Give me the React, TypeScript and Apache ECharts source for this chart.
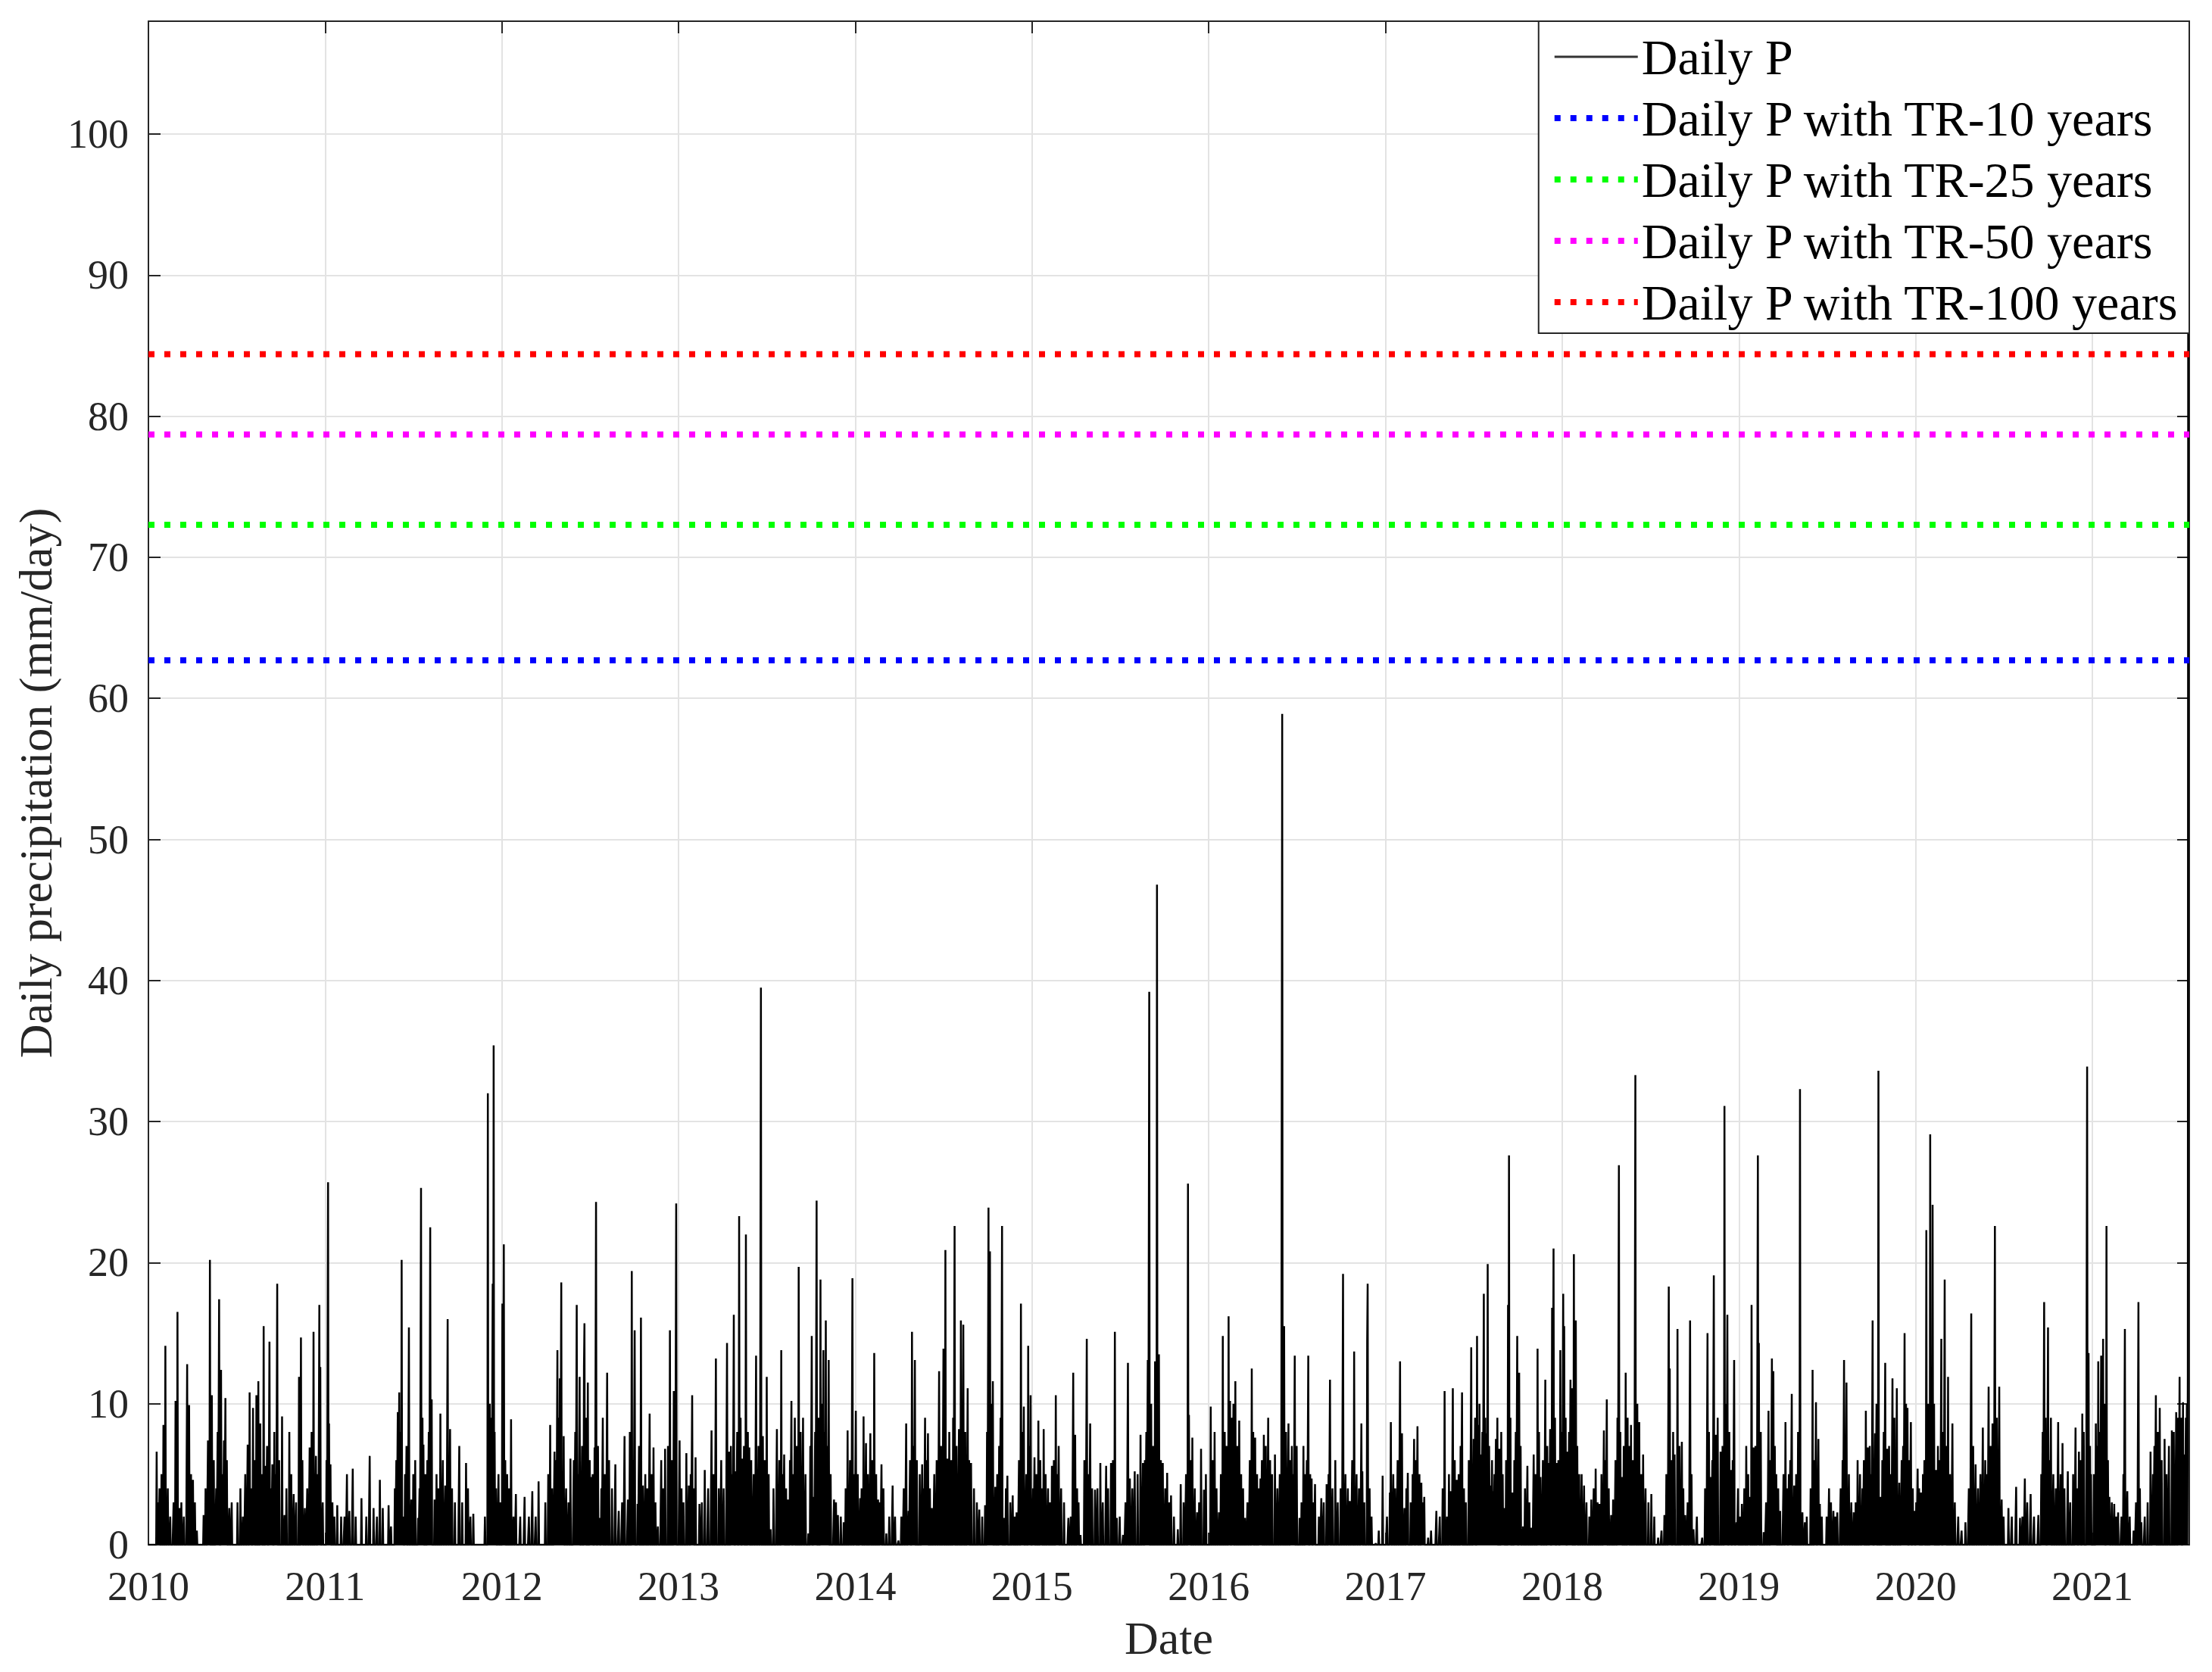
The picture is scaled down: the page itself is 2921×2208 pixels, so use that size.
import React, { useEffect, useRef } from "react";
import * as echarts from "echarts";

// Wet days: [day of year (0 = 1 Jan), daily precipitation in mm/day].
// Peaks (the visible spikes) of each year:
const wet2010 = [[17,6.6],[23,4],[31,8.5],[35,14.1],[56,10.2],[60,16.5],[64,2.6],[80,12.8],[84,9.9],[92,4.6],[100,1],[114,2.1],[123,7.4],[127,20.2],[131,10.6],[146,17.4],[150,12.4],[156,7.4],[159,10.4],[167,2.6],[184,3],[190,4],[195,2],[205,7.1],[209,10.8],[216,9.7],[223,10.6],[227,11.6],[231,8.6],[238,15.5],[242,5.6],[250,14.4],[256,5.7],[266,18.5],[276,9.1],[281,2.1],[291,8],[300,3.6],[311,11.9],[315,14.7],[323,2.6],[333,6.9],[341,15.1],[346,6.3],[353,17],[355,12.6]];
const wet2011 = [[6,25.7],[8,8.6],[11,5.7],[25,2.8],[33,2],[45,5],[50,2.4],[57,5.4],[75,3.3],[92,6.3],[100,2.6],[113,4.6],[119,2.6],[131,2.8],[136,1.3],[150,9.4],[153,10.8],[158,20.2],[161,2],[173,15.4],[178,3.2],[192,1.9],[198,25.3],[203,7.1],[217,22.5],[220,10.3],[226,3.2],[238,9.3],[248,4.2],[253,16],[258,8.2],[277,7],[291,5.8],[295,4],[306,2.2],[336,32],[340,10],[346,18.5],[348,35.4],[353,4]];
const wet2012 = [[1,17.1],[4,21.3],[11,5],[19,8.9],[29,3.6],[47,3.4],[63,3.8],[76,4.5],[100,8.5],[109,6.6],[115,13.8],[120,11.8],[123,18.6],[128,7.7],[142,6.1],[155,17],[161,11.9],[170,12.6],[171,15.7],[178,11.5],[185,4.8],[192,6.9],[195,24.3],[202,1.9],[209,9],[218,12.2],[235,5.7],[242,2.4],[254,7.7],[261,3.2],[269,19.4],[275,15.2],[281,2.9],[288,16.1],[292,4.2],[306,9.3],[314,6.9],[323,1.3],[330,6],[338,6.8],[348,15.2],[356,10.9],[361,24.2]];
const wet2013 = [[2,7.4],[16,6.5],[21,4.2],[28,10.6],[35,6.2],[43,2.9],[54,5.3],[68,8.1],[77,13.2],[83,4],[100,14.3],[104,6.6],[114,16.3],[118,5.2],[125,23.3],[132,6.1],[139,22],[146,6.9],[160,13.4],[170,39.5],[174,7.7],[182,11.9],[190,1.1],[203,8.2],[212,13.8],[218,6.4],[226,3.2],[233,10.2],[240,9],[248,19.7],[257,9],[268,0.8],[275,14.8],[279,3.4],[285,24.4],[293,18.8],[299,13.8],[304,15.9],[310,13.1],[321,3.2],[329,2.1],[341,1.6],[349,8.1],[359,18.9]];
const wet2014 = [[1,9.5],[10,3.3],[17,9.1],[22,7.2],[31,7.9],[39,13.6],[47,3.2],[54,5.7],[64,0.8],[77,4.2],[89,0.3],[105,8.6],[110,2.4],[117,15.1],[123,13.1],[138,5.7],[144,9],[150,7.9],[158,2.6],[173,12.3],[182,13.9],[186,20.9],[190,6.1],[205,22.6],[214,8.2],[218,15.9],[223,15.6],[232,11.1],[239,5.8],[256,2.5],[268,2.8],[275,23.9],[278,20.8],[284,11.6],[289,4.1],[303,22.6],[307,1.9],[314,4.9],[325,3.5],[333,2.3],[342,17.1],[348,9.8],[357,14.1],[362,10.6]];
const wet2015 = [[5,6.2],[13,8.8],[24,8.2],[41,5.6],[49,10.6],[55,7],[75,1.9],[85,12.2],[89,7.8],[100,0.7],[113,14.6],[120,8.6],[130,3.9],[141,5.8],[153,5.6],[163,5.8],[171,15.1],[175,1.9],[188,0.7],[198,12.9],[202,4.7],[212,5.2],[224,7.8],[229,5.8],[239,13.1],[242,39.2],[258,46.8],[262,13.5],[270,5.8],[279,5.1],[287,3.5],[301,1.1],[307,4.3],[322,25.6],[324,9.2],[331,7.6],[341,2.3],[349,6.8],[355,3.9]];
const wet2016 = [[4,9.8],[12,8],[21,2.3],[29,14.8],[41,16.2],[44,10.2],[55,11.6],[63,8.8],[75,1.9],[89,12.5],[96,7.6],[107,4.7],[114,7.8],[123,9],[137,6.4],[152,58.9],[156,15.5],[165,8.6],[172,7],[178,13.4],[188,1.9],[196,7],[206,13.4],[213,4.7],[220,4.3],[233,3.3],[244,4.3],[251,11.7],[262,6],[278,19.2],[292,3.1],[301,13.7],[316,8.6],[318,5.2],[328,14.5],[329,18.5],[346,0.1],[360,4.9]];
const wet2017 = [[9,3.7],[11,8.7],[30,13],[34,7.9],[39,2.6],[46,5.1],[52,3],[59,7.5],[66,8.4],[74,4.4],[80,3.4],[88,0.5],[105,2.4],[122,10.9],[127,2],[134,3.8],[139,11.1],[147,4.6],[155,7],[158,10.8],[177,14],[182,7.5],[189,14.8],[192,8.5],[197,6.4],[203,17.8],[209,7.9],[211,19.9],[217,4.2],[222,3.8],[228,7.5],[235,6.8],[245,2.6],[253,17],[255,27.6],[262,3.7],[272,14.8],[276,12.2],[284,1.3],[293,5.6],[301,1.2],[306,6.4],[314,13.9],[320,4.8],[330,11.7],[337,5.8],[340,8.2],[344,16.8],[347,21],[354,5.8],[361,13.8]];
const wet2018 = [[2,17.8],[4,15.5],[11,6.6],[17,11.7],[20,11.1],[24,20.6],[28,15.9],[35,5],[45,4.2],[60,3.2],[69,5.4],[77,2.9],[86,8.1],[92,10.3],[101,2.1],[105,3.2],[117,26.9],[123,4.8],[131,12.2],[142,8.5],[151,33.3],[159,8.7],[167,6.4],[184,3.6],[198,0.5],[211,2.1],[220,18.3],[222,12.5],[232,6.4],[238,15.3],[247,7.3],[254,2.1],[264,15.9],[271,1.1],[289,0.5],[300,15],[307,4.8],[313,19.1],[317,7.8],[327,6.6],[335,31.1],[341,16.3],[348,5.3],[355,13.1],[360,1.6]];
const wet2019 = [[6,2.9],[15,7],[22,3.4],[26,17],[30,6.9],[39,27.6],[41,14.3],[51,0.9],[61,9.5],[68,13.2],[71,12.3],[77,5],[85,2.4],[96,8.7],[103,5],[109,10.7],[114,4.2],[126,32.3],[131,2.3],[136,1.6],[152,12.4],[159,10.1],[164,7.5],[167,2.9],[186,4],[195,2.4],[203,2.3],[217,13.1],[222,11.5],[237,2.3],[245,6],[262,9.5],[266,6.9],[276,15.9],[281,7.9],[288,33.6],[292,3.4],[302,12.9],[306,6.8],[317,11.8],[326,11.1],[331,4.4],[342,15],[348,9.7],[355,8.7],[362,2.4]];
const wet2020 = [[4,5.4],[11,3.7],[22,22.3],[30,29.1],[35,24.1],[42,5.3],[53,14.6],[60,18.8],[67,11.9],[76,8.6],[103,1.6],[115,16.4],[124,5.7],[139,8.3],[151,11.2],[159,8.6],[164,22.6],[173,11.2],[178,3.2],[192,2.6],[208,4.1],[216,1.9],[226,4.7],[238,3.6],[254,2.1],[266,17.2],[274,15.4],[280,9],[295,8.7],[304,7.2],[315,5.2],[331,8.3],[338,6.6],[345,9.3],[355,33.9],[358,13.6],[361,7]];
const wet2021 = [[7,8.6],[12,13],[18,13.4],[22,14.6],[29,22.6],[35,3.4],[45,2.9],[53,2.3],[67,15.3],[72,3.8],[95,17.2],[101,1.6],[120,6.6],[131,10.6],[139,9.7],[149,7.5],[164,8.1],[173,9.4],[180,11.9],[187,10.1],[190,6.4],[197,12],[198,108],[199,108]];

// Lighter wet days that form the dark mass under the spikes:
const light2010 = [[20,3],[27,5],[40,4],[45,2],[52,3],[68,3],[73,2],[88,5],[96,3],[118,4],[125,5],[135,6],[140,4],[143,8],[153,5],[162,6],[172,3],[200,5],[212,4],[219,6],[234,5],[245,7],[253,4],[260,8],[263,5],[270,6],[285,4],[295,5],[305,3],[318,6],[328,4],[337,8],[350,5],[360,3]];
const light2011 = [[3,6],[15,3],[19,2],[40,2],[63,2],[85,2],[107,2],[144,4],[147,6],[156,8],[165,5],[168,7],[182,5],[186,6],[195,4],[201,9],[207,5],[211,6],[214,8],[230,5],[234,4],[243,6],[262,4],[268,3],[283,3],[300,2],[330,2],[338,6],[343,9],[350,8],[358,5],[362,3]];
const light2012 = [[7,6],[15,4],[24,2],[38,2],[56,2],[70,2],[90,3],[96,5],[104,4],[112,6],[118,9],[126,5],[133,4],[138,3],[149,6],[152,8],[158,5],[166,7],[174,9],[182,6],[188,5],[199,7],[206,4],[213,5],[222,6],[228,4],[249,3],[265,8],[272,6],[284,7],[297,5],[301,4],[310,5],[318,3],[334,4],[344,7],[352,6],[358,8]];
const light2013 = [[6,4],[10,3],[25,5],[31,4],[48,3],[61,4],[72,5],[88,6],[93,4],[108,7],[111,5],[121,8],[128,9],[135,7],[143,8],[150,6],[155,5],[165,7],[178,6],[186,5],[196,4],[208,6],[215,5],[222,4],[230,6],[237,5],[244,7],[252,8],[262,5],[272,7],[282,8],[289,9],[296,10],[302,8],[307,7],[314,5],[325,3],[335,2],[345,4],[354,6],[363,5]];
const light2014 = [[5,5],[13,4],[26,5],[35,6],[43,5],[51,3],[58,4],[70,2],[82,2],[95,2],[100,4],[113,6],[120,7],[127,6],[133,5],[141,4],[147,6],[154,4],[163,5],[168,6],[177,7],[194,8],[198,6],[202,9],[209,7],[227,8],[235,6],[245,4],[251,3],[262,2],[272,8],[281,10],[293,5],[297,7],[300,9],[311,4],[320,3],[329,2],[338,6],[345,8],[353,5],[360,7]];
const light2015 = [[2,4],[9,5],[17,6],[20,4],[28,5],[33,4],[37,3],[45,6],[52,5],[60,4],[66,3],[80,2],[93,4],[96,3],[108,6],[117,5],[124,4],[135,4],[146,3],[157,4],[167,6],[181,2],[193,3],[207,4],[218,5],[233,6],[236,8],[246,10],[250,7],[254,13],[266,6],[275,4],[283,3],[293,2],[313,3],[318,5],[327,6],[336,4],[345,3],[359,5]];
const light2016 = [[8,6],[16,4],[25,5],[33,8],[37,7],[48,9],[51,10],[59,7],[67,5],[71,4],[80,3],[85,6],[92,8],[100,5],[104,4],[110,6],[118,7],[127,6],[131,5],[142,4],[147,5],[160,8],[169,6],[175,5],[182,7],[192,3],[200,5],[203,6],[210,5],[217,3],[228,2],[238,3],[248,5],[256,4],[267,3],[273,4],[283,5],[288,4],[297,6],[306,5],[311,4],[322,3],[333,4],[337,2],[352,1]];
const light2017 = [[3,2],[16,5],[20,4],[25,6],[43,4],[56,5],[63,6],[70,5],[77,3],[94,1],[112,2],[118,4],[131,5],[143,6],[151,5],[162,4],[166,3],[172,6],[185,9],[194,10],[200,8],[206,9],[214,7],[220,6],[225,5],[231,9],[239,8],[242,5],[249,6],[258,9],[266,6],[269,8],[279,7],[288,4],[297,3],[310,5],[317,8],[325,6],[334,7],[350,9],[357,6],[364,8]];
const light2018 = [[7,9],[14,8],[31,7],[40,5],[50,3],[56,2],[65,4],[73,3],[81,5],[89,6],[96,4],[110,6],[114,9],[120,8],[127,7],[135,9],[138,7],[146,6],[155,10],[163,5],[172,4],[178,3],[190,2],[205,1],[215,5],[225,6],[229,8],[242,7],[250,4],[259,3],[267,5],[278,2],[295,4],[303,8],[310,6],[321,9],[331,7],[338,10],[345,8],[352,6],[363,4]];
const light2019 = [[2,2],[11,4],[19,5],[34,7],[45,8],[56,3],[65,6],[74,7],[81,4],[92,5],[99,4],[106,6],[118,5],[122,8],[140,2],[148,4],[156,6],[171,2],[181,2],[190,3],[199,2],[210,4],[214,6],[227,5],[232,3],[241,3],[250,5],[255,4],[258,6],[270,7],[273,5],[284,10],[296,6],[299,8],[310,7],[314,5],[321,9],[336,6],[339,7],[345,10],[352,6],[359,4]];
const light2020 = [[1,3],[7,4],[15,5],[18,6],[26,10],[33,12],[38,10],[46,7],[50,6],[57,8],[63,7],[71,5],[81,3],[88,2],[95,1],[110,4],[119,7],[129,4],[134,5],[144,6],[148,5],[155,7],[168,9],[182,2],[199,2],[221,2],[231,3],[245,2],[260,5],[263,8],[269,9],[277,6],[285,5],[290,4],[300,5],[308,4],[320,3],[326,5],[334,4],[341,6],[348,8],[363,5]];
const light2021 = [[3,5],[10,7],[15,8],[20,9],[25,10],[32,6],[40,3],[49,2],[60,2],[64,5],[77,2],[85,1],[90,3],[98,4],[108,2],[114,3],[125,5],[128,7],[135,8],[143,6],[153,5],[158,7],[168,8],[177,9],[183,9],[193,9],[195,10]];

const YEARS: [number, number[][], number[][]][] = [
  [2010, wet2010, light2010], [2011, wet2011, light2011], [2012, wet2012, light2012],
  [2013, wet2013, light2013], [2014, wet2014, light2014], [2015, wet2015, light2015],
  [2016, wet2016, light2016], [2017, wet2017, light2017], [2018, wet2018, light2018],
  [2019, wet2019, light2019], [2020, wet2020, light2020], [2021, wet2021, light2021],
];
const DAYS_RECORDED_2021 = 200;

// Return-period daily precipitation levels (mm/day)
const TR_NAMES = [
  "Daily P with TR-10 years",
  "Daily P with TR-25 years",
  "Daily P with TR-50 years",
  "Daily P with TR-100 years",
];
const TR_VALUES = [62.7, 72.3, 78.7, 84.4];
const TR_COLORS = ["#0000ff", "#00ff00", "#ff00ff", "#ff0000"];

const X_MIN = 2010;
const X_MAX = 2021 + DAYS_RECORDED_2021 / 365;
const Y_MIN = 0;
const Y_MAX = 108;

const FONT = "Liberation Serif";

function buildDaily(): number[][] {
  const out: number[][] = [];
  for (const [year, peaks, light] of YEARS) {
    const len = year % 4 === 0 ? 366 : 365;
    const n = year === 2021 ? DAYS_RECORDED_2021 : len;
    const m = new Map<number, number>();
    [...light, ...peaks].forEach(([d, v]) => m.set(d, Math.max(v, m.get(d) ?? 0)));
    for (let d = 0; d < n; d++) out.push([year + d / len, m.get(d) ?? 0]);
  }
  return out;
}

export default function App() {
  const ref = useRef<HTMLDivElement>(null);
  useEffect(() => {
    if (!ref.current) return;
    const chart = echarts.init(ref.current, undefined, { renderer: "svg" });
    const daily = buildDaily();
    const axisCommon = {
      axisLine: { show: true, onZero: false, lineStyle: { color: "#262626", width: 2 } },
      axisTick: { show: true, inside: true, length: 16, lineStyle: { color: "#262626", width: 2 } },
    };
    const hiddenSymbol = { color: "rgba(0,0,0,0)", borderWidth: 0, opacity: 0 };
    const option: any = {
      animation: false,
      backgroundColor: "#ffffff",
      grid: { left: 196, top: 28, width: 2695, height: 2012, containLabel: false },
      legend: {
        show: true,
        orient: "vertical",
        right: 30,
        top: 28,
        backgroundColor: "#ffffff",
        borderColor: "#262626",
        borderWidth: 2,
        padding: [14, 12, 8, 17],
        itemGap: 15,
        itemWidth: 110,
        itemHeight: 14,
        textStyle: { fontFamily: FONT, fontSize: 66, color: "#000000" },
        data: [
          { name: "Daily P", lineStyle: { width: 3, color: "#333333" }, itemStyle: hiddenSymbol },
          ...TR_NAMES.map((n, i) => ({
            name: n,
            lineStyle: { width: 8, type: [8, 13], color: TR_COLORS[i] },
            itemStyle: hiddenSymbol,
          })),
        ],
      },
      xAxis: [
        {
          type: "value",
          min: X_MIN,
          max: X_MAX,
          interval: 1,
          position: "bottom",
          name: "Date",
          nameLocation: "middle",
          nameGap: 92,
          nameTextStyle: { fontFamily: FONT, fontSize: 62, color: "#262626" },
          ...axisCommon,
          axisLabel: {
            fontFamily: FONT,
            fontSize: 54,
            color: "#262626",
            margin: 28,
            showMaxLabel: false,
            formatter: (v: number) => String(Math.round(v)),
          },
          splitLine: { show: true, lineStyle: { color: "#e3e3e3", width: 2 } },
        },
        {
          type: "value",
          min: X_MIN,
          max: X_MAX,
          interval: 1,
          position: "top",
          ...axisCommon,
          axisLabel: { show: false },
          splitLine: { show: false },
        },
      ],
      yAxis: [
        {
          type: "value",
          min: Y_MIN,
          max: Y_MAX,
          interval: 10,
          position: "left",
          name: "Daily precipitation (mm/day)",
          nameLocation: "middle",
          nameRotate: 90,
          nameGap: 112,
          nameTextStyle: { fontFamily: FONT, fontSize: 62, color: "#262626" },
          ...axisCommon,
          axisLabel: {
            fontFamily: FONT,
            fontSize: 54,
            color: "#262626",
            margin: 26,
            showMaxLabel: false,
          },
          splitLine: { show: true, lineStyle: { color: "#e3e3e3", width: 2 } },
        },
        {
          type: "value",
          min: Y_MIN,
          max: Y_MAX,
          interval: 10,
          position: "right",
          ...axisCommon,
          axisLabel: { show: false },
          splitLine: { show: false },
        },
      ],
      series: [
        {
          name: "Daily P",
          type: "line",
          data: daily,
          showSymbol: false,
          symbol: "none",
          clip: true,
          lineStyle: { color: "#000000", width: 2.5 },
          itemStyle: { color: "#000000" },
          emphasis: { disabled: true },
          z: 2,
        },
        ...TR_NAMES.map((n, i) => ({
          name: n,
          type: "line",
          data: [
            [X_MIN, TR_VALUES[i]],
            [X_MAX, TR_VALUES[i]],
          ],
          showSymbol: false,
          symbol: "none",
          clip: true,
          lineStyle: { color: TR_COLORS[i], width: 8, type: [8, 13] },
          itemStyle: { color: TR_COLORS[i] },
          emphasis: { disabled: true },
          z: 3,
        })),
      ],
    };
    chart.setOption(option);
    return () => chart.dispose();
  }, []);
  return (
    <div
      ref={ref}
      style={{ position: "absolute", left: 0, top: 0, width: 2921, height: 2208 }}
    />
  );
}
